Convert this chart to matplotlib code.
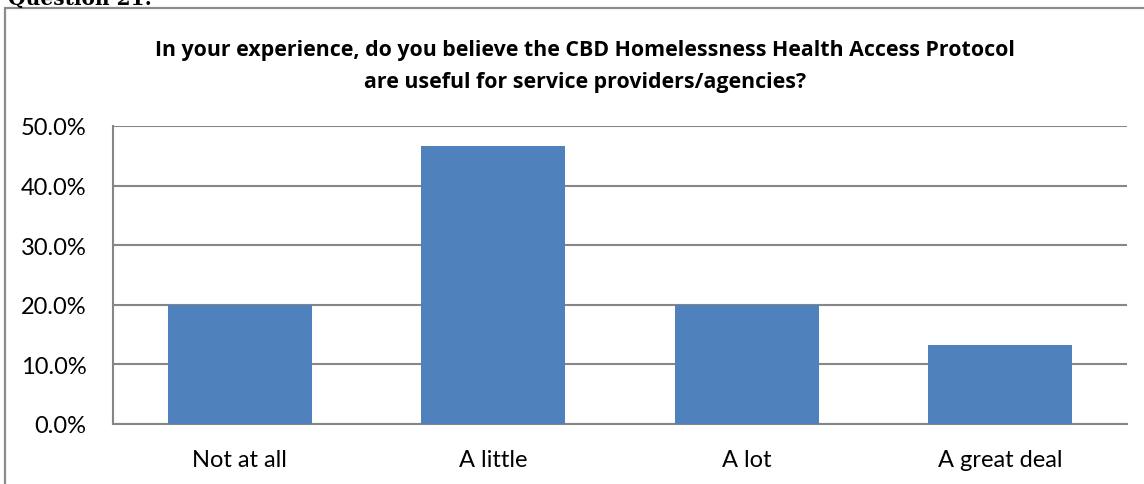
import matplotlib
matplotlib.use("Agg")
import matplotlib.pyplot as plt
from matplotlib.patches import Rectangle
from matplotlib.ticker import PercentFormatter

categories = ["Not at all", "A little", "A lot", "A great deal"]
percentages = [20.0, 46.7, 20.0, 13.3]
y_ticks = [0, 10, 20, 30, 40, 50]

W, H = 1144, 485
fig = plt.figure(figsize=(W / 100, H / 100), dpi=100)
plt.rcParams["font.family"] = ["Lato", "DejaVu Sans"]

def fx(px):
    return px / W

def fy(py):
    return 1 - py / H

# heading above the chart frame, partly cut off at the top edge
fig.text(fx(8), fy(5), "Question 21:", family="DejaVu Serif", weight="bold",
         fontsize=14.5, ha="left", va="baseline", color="black")

# chart frame
frame = Rectangle((fx(4.5), fy(520)), fx(1200), fy(9) - fy(520),
                  transform=fig.transFigure, fill=False,
                  edgecolor="#8c8c8c", linewidth=1.6)
fig.add_artist(frame)

title_kw = dict(ha="center", va="baseline", fontsize=15.4, weight="bold",
                color="black", family=["Open Sans", "DejaVu Sans"])
fig.text(fx(585), fy(56), "In your experience, do you believe the CBD Homelessness Health Access Protocol",
         **title_kw)
fig.text(fx(585), fy(88), "are useful for service providers/agencies?", **title_kw)

ax = fig.add_axes([fx(113), fy(425), fx(1127) - fx(113), fy(127) - fy(425)])
x = range(len(categories))
ax.bar(x, percentages, width=0.57, color="#4F81BD", zorder=3)
ax.set_xlim(-0.5, len(categories) - 0.5)
ax.set_ylim(0, 50)
ax.set_yticks(y_ticks)
ax.yaxis.set_major_formatter(PercentFormatter(decimals=1))
ax.set_xticks(list(x))
ax.set_xticklabels(categories)
ax.tick_params(axis="both", length=0, labelsize=17, colors="black")
ax.tick_params(axis="y", pad=19)
ax.tick_params(axis="x", pad=18)
ax.grid(axis="y", color="#868686", linewidth=1.5, zorder=0)
for side in ["top", "right"]:
    ax.spines[side].set_visible(False)
for side in ["left", "bottom"]:
    ax.spines[side].set_color("#868686")
    ax.spines[side].set_linewidth(1.5)

fig.savefig("out.png", dpi=100)
